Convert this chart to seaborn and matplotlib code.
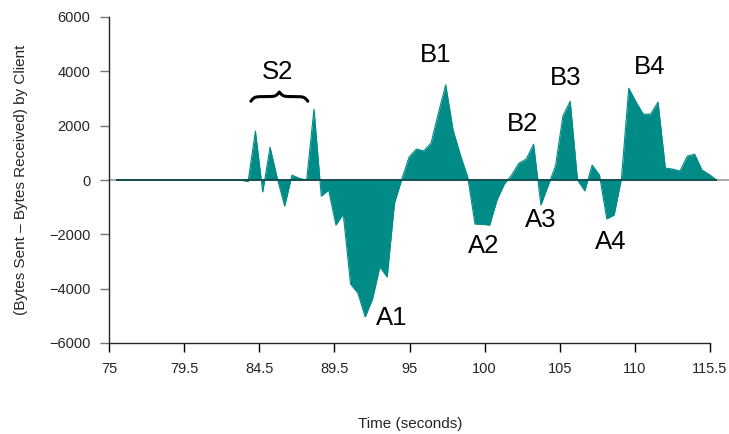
import numpy as np
import matplotlib
matplotlib.use('Agg')
import matplotlib.pyplot as plt
import seaborn as sns

sns.set_style("ticks")
plt.rcParams['font.family'] = ['Liberation Sans', 'DejaVu Sans']

# ---------------- data (0.5 s samples starting at 75 s) ----------------
start_time = 75.0
step = 0.5
values = [0] * 18 + [
    -60, 1800, -440, 1210, 50, -960, 180, 60, 0, 2610,          # 84 - 88.5  (S2)
    -590, -370, -1660, -1250, -3830, -4160, -5040, -4380, -3200, -3570,  # A1
    -850, 30, 850, 1140, 1070, 1360, 2470, 3500, 1840, 920,    # B1
    110, -1620, -1630, -1660, -740, -150, 180, 620, 770, 1320,  # A2, B2
    -920, -200, 520, 2350, 2900, 0, -400, 550, 180, -1430,     # A3, B3
    -1290, 40, 3380, 2870, 2420, 2430, 2870, 440, 400, 330,    # A4, B4
    880, 950, 370, 200, 0,
]
times = start_time + step * np.arange(len(values))

tick_labels = ['75', '79.5', '84.5', '89.5', '95', '100', '105', '110', '115.5']
y_ticks = [-6000, -4000, -2000, 0, 2000, 4000, 6000]

# annotation labels and where they sit (time, value)
ann_text = ['S2', 'B1', 'B2', 'B3', 'B4', 'A1', 'A2', 'A3', 'A4']
ann_t = [86.03, 96.82, 102.77, 105.70, 111.44, 93.82, 100.10, 103.99, 108.78]
ann_v = [3975, 4600, 2060, 3750, 4160, -5080, -2430, -1470, -2280]

# brace over the S2 burst
brace_t = (84.19, 88.08)
brace_v = (2900, 3240)

teal = '#008b87'

fig = plt.figure(figsize=(7.29, 4.34), dpi=100)
ax = fig.add_axes([109 / 729, 91 / 434, 620 / 729, 326 / 434])

x_lo = 74.5
x_tick_hi = 115.55
ax.set_xlim(x_lo, x_lo + (x_tick_hi - x_lo) * 620 / 601)
ax.set_ylim(-6000, 6000)

ax.axhline(0, color='#9a9a9a', lw=1.2, zorder=1)
ax.fill_between(times, values, 0, color=teal, lw=0, zorder=2)
sns.lineplot(x=times, y=values, color=teal, lw=0.8, ax=ax, zorder=3)
ax.hlines(0, times[0], times[-1], color='#174f4c', lw=1.4, zorder=4)

# curly brace
xs = np.linspace(brace_t[0], brace_t[1], 301)
half = xs[:151]
s = (half - half[0]) / (half[-1] - half[0])
beta = 16
yh = 1 / (1 + np.exp(-beta * s)) + 1 / (1 + np.exp(-beta * (s - 1)))
yh = np.concatenate([yh, yh[-2::-1]])
ys = brace_v[0] + (yh - yh[0]) * (brace_v[1] - brace_v[0])
ax.plot(xs, ys, color='black', lw=2.2, solid_capstyle='round', zorder=5)

for txt, t, v in zip(ann_text, ann_t, ann_v):
    ax.text(t, v, txt, ha='center', va='center', fontsize=18.5, color='black')

# axes styling
ticks = np.linspace(x_lo, x_tick_hi, len(tick_labels))
ax.set_xticks(ticks)
ax.set_xticklabels(tick_labels)
ax.set_yticks(y_ticks)
ax.set_yticklabels([str(v).replace('-', '\u2212') for v in y_ticks])
ax.tick_params(axis='both', labelsize=10.5, length=6.5, width=1, pad=7)
ax.tick_params(axis='y', color='#777777')
ax.tick_params(axis='x', color='black')

sns.despine(ax=ax)
ax.spines['bottom'].set_bounds(x_lo, x_tick_hi)
ax.spines['left'].set_linewidth(1)
ax.spines['bottom'].set_linewidth(1)

ax.set_xlabel('Time (seconds)', fontsize=11)
ax.set_ylabel('(Bytes Sent \u2013 Bytes Received) by Client', fontsize=11)
ax.xaxis.set_label_coords((410 - 109) / 620, -0.227)
ax.yaxis.set_label_coords((28 - 109) / 620, 0.5)

fig.savefig('out.png', dpi=100)
